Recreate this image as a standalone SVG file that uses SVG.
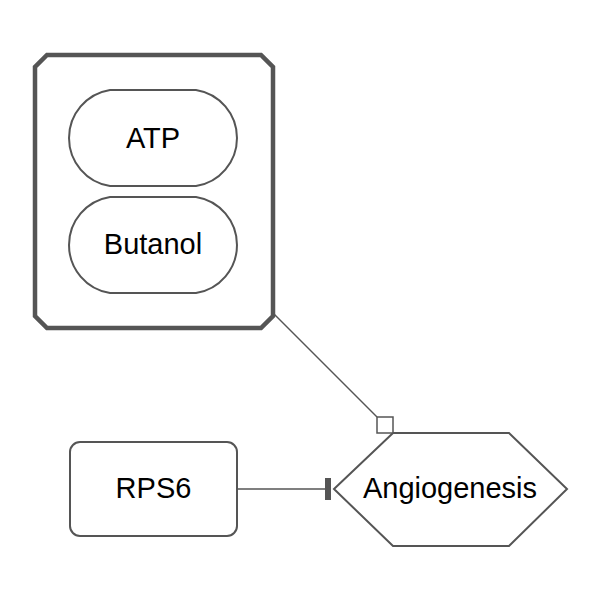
<svg xmlns="http://www.w3.org/2000/svg" width="600" height="600" viewBox="0 0 600 600">
  <style>
    .node { fill: #ffffff; stroke: #555555; stroke-width: 2; }
    .complex { fill: #ffffff; stroke: #555555; stroke-width: 4.5; }
    .label { font-family: "Liberation Sans", Arial, Helvetica, sans-serif; font-size: 29px; fill: #000000; text-anchor: middle; }
    .edge { fill: none; stroke: #555555; stroke-width: 1.5; }
  </style>
  <rect width="600" height="600" fill="#ffffff"/>
  <g id="complex1">
    <path class="complex" d="M 47 55 L 261 55 L 273 67 L 273 316 L 261 328 L 47 328 L 35 316 L 35 67 Z"/>
  </g>
  <g id="ATP">
    <path class="node" d="M 110 90 L 196 90 A 48.6 48.6 0 0 1 196 186 L 110 186 A 48.6 48.6 0 0 1 110 90 Z"/>
    <text class="label" x="153" y="148">ATP</text>
  </g>
  <g id="Butanol">
    <path class="node" d="M 110 197 L 196 197 A 48.6 48.6 0 0 1 196 293 L 110 293 A 48.6 48.6 0 0 1 110 197 Z"/>
    <text class="label" x="153" y="254">Butanol</text>
  </g>
  <g id="RPS6">
    <rect class="node" x="70" y="442" width="167" height="94" rx="10" ry="10"/>
    <text class="label" x="153.5" y="498">RPS6</text>
  </g>
  <g id="Angiogenesis">
    <polygon class="node" points="334,489 393,433 509,433 567,489 509,546 393,546"/>
    <text class="label" x="450" y="498">Angiogenesis</text>
  </g>
  <g id="connectors">
    <line class="edge" x1="273" y1="313" x2="377" y2="417"/>
    <rect x="377" y="417" width="16" height="16" fill="#ffffff" stroke="#555555" stroke-width="1.5"/>
    <line class="edge" x1="237" y1="489" x2="326" y2="489"/>
    <rect x="325" y="478" width="6" height="22" fill="#555555"/>
  </g>
</svg>
